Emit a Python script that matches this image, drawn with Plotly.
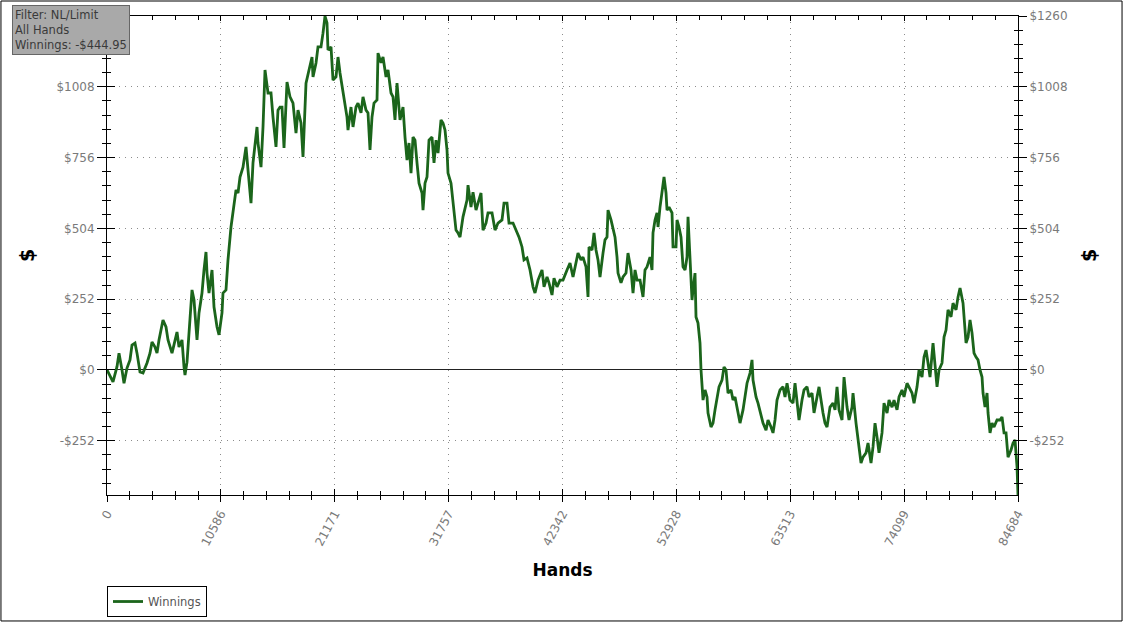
import plotly.graph_objects as go

hands = [0, 279, 558, 930, 1116, 1394, 1580, 1859, 2138, 2324, 2603, 2789, 3068, 3347, 3718, 3997,
         4183, 4462, 4648, 4834, 5206, 5485, 5671, 6042, 6321, 6507, 6693, 6972, 7158, 7251, 7437,
         7716, 7902, 8088, 8366, 8552, 8831, 9017, 9203, 9296, 9482, 9761, 9947, 10226, 10412,
         10690, 10783, 11062, 11248, 11527, 11713, 11992, 12178, 12364, 12643, 12921, 13107, 13386,
         13572, 13758, 13944, 14037, 14316, 14502, 14688, 14967, 15245, 15431, 15710, 15896, 16082,
         16268, 16454, 16733, 17012, 17291, 17569, 17755, 18034, 18220, 18499, 18778, 19057, 19150,
         19429, 19615, 19893, 20079, 20265, 20451, 20544, 20823, 21009, 21288, 21474, 21660, 21939,
         22124, 22310, 22403, 22682, 22868, 23147, 23333, 23612, 23798, 24077, 24263, 24448, 24634,
         24820, 25099, 25192, 25471, 25657, 25936, 26122, 26401, 26587, 26772, 26958, 27237, 27516,
         27702, 27888, 28074, 28260, 28446, 28632, 28818, 29004, 29282, 29375, 29561, 29747, 29933,
         30212, 30398, 30584, 30770, 31049, 31235, 31420, 31606, 31699, 31978, 32164, 32257, 32443,
         32629, 32815, 33094, 33466, 33559, 33837, 34023, 34302, 34488, 34767, 34953, 35232, 35418,
         35790, 36068, 36347, 36719, 36905, 37184, 37370, 37742, 38021, 38300, 38578, 38764, 39043,
         39322, 39601, 39787, 40066, 40438, 40624, 40902, 41088, 41367, 41553, 41832, 42111, 42390,
         42762, 43040, 43319, 43505, 43784, 44063, 44249, 44528, 44714, 44807, 45086, 45272, 45457,
         45643, 45829, 46108, 46294, 46480, 46573, 46852, 47038, 47224, 47410, 47503, 47781, 47967,
         48246, 48432, 48711, 48897, 49083, 49269, 49548, 49827, 50012, 50198, 50477, 50663, 50756,
         50942, 51128, 51221, 51407, 51593, 51779, 51965, 52058, 52244, 52522, 52615, 52894, 52987,
         53173, 53359, 53545, 53731, 53917, 54010, 54196, 54382, 54475, 54660, 54753, 54939, 55125,
         55218, 55404, 55590, 55776, 55869, 56148, 56334, 56520, 56706, 56892, 57170, 57356, 57542,
         57728, 58007, 58193, 58379, 58565, 58844, 59123, 59308, 59494, 59773, 59959, 60052, 60331,
         60517, 60796, 60982, 61261, 61447, 61725, 61911, 62097, 62283, 62562, 62841, 63027, 63213,
         63492, 63771, 63956, 64142, 64328, 64607, 64793, 65072, 65258, 65537, 65723, 66002, 66188,
         66559, 66745, 66931, 67210, 67489, 67675, 67861, 68047, 68326, 68512, 68790, 68976, 69255,
         69348, 69627, 69813, 70092, 70278, 70557, 70743, 71021, 71207, 71393, 71579, 71765, 72044,
         72230, 72509, 72695, 72974, 73160, 73438, 73624, 73903, 74089, 74368, 74554, 74833, 75019,
         75298, 75484, 75762, 75948, 76134, 76320, 76506, 76785, 76971, 77157, 77343, 77622, 77808,
         77993, 78179, 78458, 78644, 78923, 79109, 79295, 79574, 79667, 79853, 80039, 80224, 80410,
         80596, 80782, 80968, 81154, 81340, 81433, 81619, 81805, 81898, 82084, 82270, 82456, 82734,
         83013, 83199, 83385, 83571, 83757, 84036, 84222, 84408, 84594, 84640, 84684]

winnings = [0, -24, -42, 12, 60, 0, -47, 7, 36, 89, 96, 60, -7, -11, 25, 60,
            100, 82, 60, 107, 178, 153, 107, 60, 107, 135, 82, 107, 11, -18, 28,
            167, 285, 249, 107, 203, 274, 356, 420, 345, 274, 356, 224, 153, 125,
            203, 274, 285, 392, 509, 569, 641, 630, 687, 722, 794, 712, 594,
            737, 794, 865, 808, 722, 865, 1068, 986, 986, 900, 794, 925, 936,
            936, 790, 1025, 972, 950, 843, 925, 879, 758, 1021, 1068, 1114, 1043,
            1093, 1150, 1150, 1199, 1259.6, 1235, 1139, 1150, 1032, 1043, 1114, 1057, 986,
            950, 900, 854, 936, 865, 936, 950, 915, 972, 925, 915, 783, 900,
            950, 961, 1128, 1093, 1114, 1043, 1068, 986, 972, 890, 1021, 890, 936,
            829, 747, 808, 701, 829, 818, 737, 665, 630, 569, 665, 687, 818,
            829, 737, 818, 772, 890, 879, 854, 783, 701, 665, 605, 569, 498,
            488, 473, 545, 605, 658, 580, 633, 569, 594, 630, 498, 523, 559,
            559, 498, 523, 534, 594, 594, 523, 523, 498, 473, 438, 392, 399,
            356, 296, 274, 320, 356, 296, 331, 310, 267, 327, 296, 320, 320,
            356, 381, 331, 367, 416, 392, 402, 367, 260, 438, 427, 488, 427,
            392, 331, 416, 463, 473, 569, 534, 498, 473, 402, 345, 310, 331,
            345, 416, 356, 274, 356, 320, 320, 260, 356, 367, 402, 356, 488,
            534, 559, 509, 580, 630, 687, 630, 569, 580, 559, 438, 438, 534,
            509, 473, 367, 356, 402, 545, 402, 249, 285, 345, 189, 167, 96,
            0, -107, -71, -96, -153, -203, -189, -142, -107, -60, -36, 11, 0,
            -82, -71, -107, -96, -132, -189, -142, -96, -47, -11, 36, -36, -96,
            -118, -167, -189, -214, -178, -203, -224, -178, -107, -71, -60, -96, -47,
            -107, -118, -47, -118, -178, -107, -71, -60, -96, -82, -153, -96, -60,
            -153, -189, -203, -132, -118, -142, -60, -142, -178, -25, -132, -178, -132,
            -82, -189, -249, -331, -310, -295, -260, -331, -274, -189, -238, -295, -224,
            -118, -153, -107, -132, -107, -142, -96, -71, -96, -47, -60, -82, -118,
            -60, 0, -25, 46, 71, 25, -25, 96, 11, -60, 0, 25, 117,
            142, 214, 189, 238, 214, 260, 292, 238, 189, 96, 117, 178, 132,
            60, 46, 36, 0, -25, -82, -132, -82, -153, -224, -189, -203, -178,
            -178, -167, -224, -224, -310, -285, -260, -249, -345, -416, -444.95]

x_ticks = [0, 10586, 21171, 31757, 42342, 52928, 63513, 74099, 84684]
y_ticks = [-252, 0, 252, 504, 756, 1008, 1260]
y_labels = ["-$252", "$0", "$252", "$504", "$756", "$1008", "$1260"]
filter_lines = ["Filter: NL/Limit", "All Hands", "Winnings: -$444.95"]
series_name = "Winnings"

X_RANGE = [0, 84684]
Y_RANGE = [-444.95, 1260]
GREEN = "#1b651b"
TICKFONT = dict(family="DejaVu Sans", size=12, color="#7a7a7a")
GRIDDASH = "1px,5px"
GRIDCOLOR = "#8c8c8c"

fig = go.Figure()
fig.add_trace(go.Scatter(x=hands, y=winnings, mode="lines", name=series_name,
                         line=dict(color=GREEN, width=2.8), xaxis="x", yaxis="y"))
# phantom traces so the overlay axes (used for crossing ticks) are drawn
for xa, ya in [("x2", "y2"), ("x3", "y3"), ("x", "y4")]:
    fig.add_trace(go.Scatter(x=[hands[0]], y=[winnings[0]], mode="markers",
                             marker=dict(opacity=0), showlegend=False,
                             hoverinfo="skip", xaxis=xa, yaxis=ya))

xminor = X_RANGE[1] / 40
yminor = 252 / 5

common_x = dict(range=X_RANGE, tickvals=x_ticks, showline=True, linecolor="black",
                linewidth=1, zeroline=False, tickcolor="black", fixedrange=True,
                automargin=False)
common_y = dict(range=Y_RANGE, tickvals=y_ticks, showline=True, linecolor="black",
                linewidth=1, tickcolor="black", fixedrange=True, automargin=False)

fig.update_layout(
    width=1124, height=623,
    margin=dict(l=107, r=106, t=16, b=128, autoexpand=False),
    paper_bgcolor="white", plot_bgcolor="white",
    showlegend=True,
    legend=dict(x=0, y=-0.19, xanchor="left", yanchor="top", orientation="h",
                bordercolor="black", borderwidth=1, bgcolor="white",
                font=dict(family="DejaVu Sans", size=11.5, color="#555555"),
                itemwidth=30, tracegroupgap=0),
    xaxis=dict(**common_x, anchor="y", side="bottom", ticks="outside", ticklen=6,
               ticktext=[str(v) for v in x_ticks], tickangle=-62, tickfont=TICKFONT,
               showgrid=True, gridcolor=GRIDCOLOR, griddash=GRIDDASH, gridwidth=1,
               minor=dict(ticks="outside", ticklen=4, tickcolor="black", dtick=xminor, tick0=0,
                          showgrid=False),
               title=dict(text="<b>Hands</b>", standoff=16,
                          font=dict(family="DejaVu Sans", size=17, color="black"))),
    xaxis2=dict(**common_x, overlaying="x", anchor="y", side="bottom", ticks="inside",
                ticklen=6, showticklabels=False, showgrid=False,
                minor=dict(ticks="inside", ticklen=4, tickcolor="black", dtick=xminor, tick0=0)),
    xaxis3=dict(**common_x, overlaying="x", anchor="y", side="top", ticks="inside",
                ticklen=5, showticklabels=False, showgrid=False,
                minor=dict(ticks="inside", ticklen=4, tickcolor="black", dtick=xminor, tick0=0)),
    yaxis=dict(**common_y, anchor="x", side="left", ticks="outside", ticklen=9,
               ticktext=y_labels, tickfont=TICKFONT,
               showgrid=True, gridcolor=GRIDCOLOR, griddash=GRIDDASH, gridwidth=1,
               zeroline=True, zerolinecolor="#222222", zerolinewidth=1,
               minor=dict(ticks="outside", ticklen=4, tickcolor="black", dtick=yminor, tick0=0,
                          showgrid=False),
               title=dict(text="<b>$</b>", standoff=16,
                          font=dict(family="DejaVu Sans", size=19, color="black"))),
    yaxis2=dict(**common_y, overlaying="y", anchor="x", side="left", ticks="inside",
                ticklen=8, showticklabels=False, showgrid=False, zeroline=False,
                minor=dict(ticks="inside", ticklen=4, tickcolor="black", dtick=yminor, tick0=0)),
    yaxis3=dict(**common_y, overlaying="y", anchor="x", side="right", ticks="outside",
                ticklen=8, ticktext=y_labels, tickfont=TICKFONT, showgrid=False, zeroline=False,
                minor=dict(ticks="outside", ticklen=4, tickcolor="black", dtick=yminor, tick0=0),
                title=dict(text="<b>$</b>", standoff=16,
                           font=dict(family="DejaVu Sans", size=19, color="black"))),
    yaxis4=dict(**common_y, overlaying="y", anchor="x", side="right", ticks="inside",
                ticklen=5, showticklabels=False, showgrid=False, zeroline=False,
                minor=dict(ticks="inside", ticklen=4, tickcolor="black", dtick=yminor, tick0=0)),
    annotations=[dict(xref="paper", yref="paper", x=-0.1043, y=1.023,
                      xanchor="left", yanchor="top", align="left", showarrow=False,
                      text="<br>".join(filter_lines),
                      font=dict(family="DejaVu Sans", size=11.5, color="#3a3a3a"),
                      bgcolor="#a9a9a9", bordercolor="#666666", borderwidth=1, borderpad=2)],
    shapes=[dict(type="rect", xref="paper", yref="paper", x0=-0.1164, x1=1.1142,
                 y0=-0.263, y1=1.0313, line=dict(color="black", width=1),
                 fillcolor="rgba(0,0,0,0)", layer="below")],
)

fig.write_html("out.html", config={"displayModeBar": False},
               post_script="document.body.style.margin='0';document.body.style.padding='0';")
